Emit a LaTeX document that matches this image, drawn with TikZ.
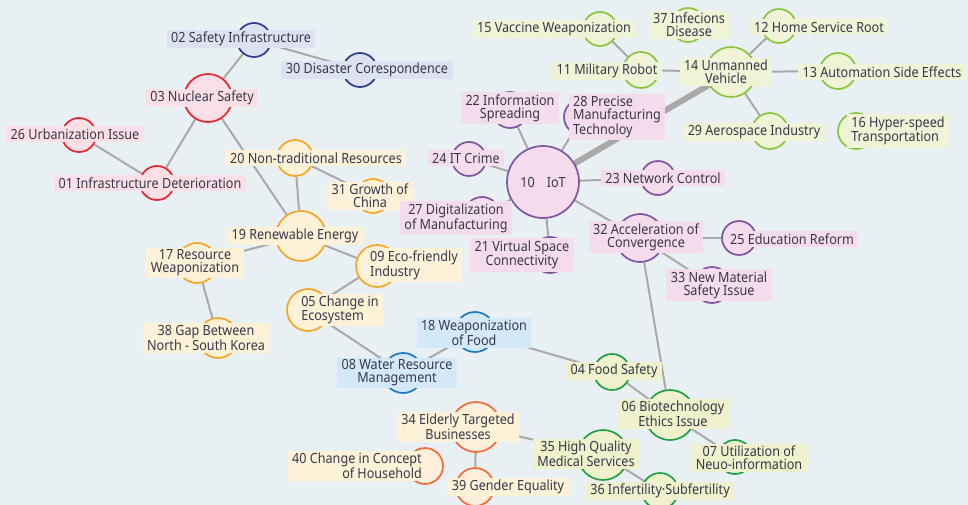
\documentclass[tikz,border=0pt]{standalone}
\usepackage{fontspec}
\setmainfont[FakeStretch=0.9]{Noto Sans}

\pgfdeclarelayer{paper}
\pgfdeclarelayer{links}
\pgfsetlayers{paper,links,main}

% palette
\definecolor{paperbg}{HTML}{E9F0F3}
\definecolor{linkgray}{HTML}{A9A9A9}
\definecolor{ink}{HTML}{38384A}
\definecolor{lineR}{HTML}{E8242C}\definecolor{fillR}{HTML}{FADFE7}
\definecolor{lineN}{HTML}{2E3B8F}\definecolor{fillN}{HTML}{DCE2F2}
\definecolor{lineO}{HTML}{F6A623}\definecolor{fillO}{HTML}{FDF1D8}
\definecolor{lineB}{HTML}{1F78C4}\definecolor{fillB}{HTML}{D3E9F7}
\definecolor{lineP}{HTML}{7D55A3}\definecolor{fillP}{HTML}{F4DCEC}
\definecolor{lineL}{HTML}{8BC540}\definecolor{fillL}{HTML}{EFF4D6}
\definecolor{lineG}{HTML}{22A045}\definecolor{fillG}{HTML}{EEF1CB}
\definecolor{lineS}{HTML}{F26B3B}\definecolor{fillS}{HTML}{FEEEDA}

\newcommand\labelfont{\fontsize{14}{12.8}\selectfont}

\tikzset{
  ring/.style={circle, line width=1.7pt, inner sep=0pt, minimum size=2*#1},
  tag/.style={inner xsep=4.5pt, inner ysep=2.3pt, text=ink, font=\labelfont},
  link/.style={draw=linkgray, line width=2pt},
  trunk/.style={draw=linkgray, line width=6pt},
  % groups: ring colours and label fills
  rR/.style={ring=#1, draw=lineR, fill=fillR}, tR/.style={tag, fill=fillR},
  rN/.style={ring=#1, draw=lineN, fill=fillN}, tN/.style={tag, fill=fillN},
  rO/.style={ring=#1, draw=lineO, fill=fillO}, tO/.style={tag, fill=fillO},
  rB/.style={ring=#1, draw=lineB, fill=fillB}, tB/.style={tag, fill=fillB},
  rP/.style={ring=#1, draw=lineP, fill=fillP}, tP/.style={tag, fill=fillP},
  rL/.style={ring=#1, draw=lineL, fill=fillL}, tL/.style={tag, fill=fillL},
  rG/.style={ring=#1, draw=lineG, fill=fillG}, tG/.style={tag, fill=fillG},
  rS/.style={ring=#1, draw=lineS, fill=fillS}, tS/.style={tag, fill=fillO},
}

\begin{document}
\begin{tikzpicture}[x=1pt, y=-1pt]
\begin{pgfonlayer}{paper}
  \fill[paperbg] (0,0) rectangle (968,505);
\end{pgfonlayer}
\useasboundingbox (0,0) rectangle (968,505);

% ---- rings ----
\node[rN=17pt] (c02) at (254,40) {};
\node[rN=17pt] (c30) at (360,70) {};
\node[rR=24pt] (c03) at (208,98) {};
\node[rR=17pt] (c26) at (79,135) {};
\node[rR=17pt] (c01) at (157,183) {};

\node[rO=18pt] (c20) at (295,158) {};
\node[rO=17pt] (c31) at (373,196) {};
\node[rO=25pt] (c19) at (301,236) {};
\node[rO=20pt] (c17) at (197,263) {};
\node[rO=21pt] (c09) at (377,266) {};
\node[rO=21pt] (c05) at (308,310) {};
\node[rO=20pt] (c38) at (218,338) {};

\node[rB=20pt] (c18) at (475,332) {};
\node[rB=20pt] (c08) at (403,373) {};

\node[rL=17pt] (c15) at (600,29) {};
\node[rL=17pt] (c37) at (688,25) {};
\node[rL=17pt] (c12) at (779,26) {};
\node[rL=18pt] (c11) at (641,70) {};
\node[rL=25pt] (c14) at (731,72) {};
\node[rL=18pt] (c13) at (838,71) {};
\node[rL=18pt] (c29) at (770,131) {};
\node[rL=18pt] (c16) at (856,131) {};

\node[rP=36pt, font=\labelfont, text=ink] (c10) at (543,182) {10\hspace{12pt}IoT};
\node[rP=18pt] (c22) at (510,110) {};
\node[rP=18pt] (c28) at (582,117) {};
\node[rP=17pt] (c24) at (469,159) {};
\node[rP=17pt] (c23) at (658,178) {};
\node[rP=18pt] (c27) at (482,215) {};
\node[rP=18pt] (c21) at (550,255) {};
\node[rP=24pt] (c32) at (640,238) {};
\node[rP=17pt] (c25) at (739,238) {};
\node[rP=18pt] (c33) at (712,285) {};

\node[rG=18pt] (c04) at (612,372) {};
\node[rG=25pt] (c06) at (670,415) {};
\node[rG=17pt] (c07) at (735,457) {};
\node[rG=25pt] (c35) at (603,455) {};
\node[rG=18pt] (c36) at (660,491) {};

\node[rS=25pt] (c34) at (476,427) {};
\node[rS=18pt] (c40) at (425,466) {};
\node[rS=19pt] (c39) at (475,487) {};

% ---- labels ----
\node[tN] (t02) at (241,39) {02 Safety Infrastructure};
\node[tN] (t30) at (367,70) {30 Disaster Corespondence};
\node[tR] (t03) at (202,98) {03 Nuclear Safety};
\node[tR] (t26) at (75,134) {26 Urbanization Issue};
\node[tR] (t01) at (150,183) {01 Infrastructure Deterioration};

\node[tO] (t20) at (316,158) {20 Non-traditional Resources};
\node[tO, align=center] (t31) at (370,196) {31 Growth of\\China};
\node[tO] (t19) at (295,236) {19 Renewable Energy};
\node[tO, align=center] (t17) at (195,263) {17 Resource\\Weaponization};
\node[tO, align=left] (t09) at (414,265) {09 Eco-friendly\\Industry};
\node[tO, align=left] (t05) at (340,310) {05 Change in\\Ecosystem};
\node[tO, align=center] (t38) at (206,338) {38 Gap Between\\North - South Korea};

\node[tB, align=center] (t18) at (474,333) {18 Weaponization\\of Food};
\node[tB, align=center] (t08) at (397,373) {08 Water Resource\\Management};

\node[tL] (t15) at (554,29) {15 Vaccine Weaponization};
\node[tL, align=center] (t37) at (689,25) {37 Infecions\\Disease};
\node[tL] (t12) at (819,27) {12 Home Service Root};
\node[tL] (t11) at (607,71) {11 Military Robot};
\node[tL, align=center] (t14) at (726,72) {14 Unmanned\\Vehicle};
\node[tL] (t13) at (882,72) {13 Automation Side Effects};
\node[tL] (t29) at (754,132) {29 Aerospace Industry};
\node[tL, align=left] (t16) at (898,131) {16 Hyper-speed\\Transportation};

\node[tP, align=center] (t22) at (510,108) {22 Information\\Spreading};
\node[tP, align=left] (t28) at (617,117) {28 Precise\\Manufacturing\\Technoloy};
\node[tP] (t24) at (466,158) {24 IT Crime};
\node[tP] (t23) at (663,178) {23 Network Control};
\node[tP, align=center] (t27) at (456,218) {27 Digitalization\\of Manufacturing};
\node[tP, align=center] (t21) at (522,255) {21 Virtual Space\\Connectivity};
\node[tP, align=center] (t32) at (646,237) {32 Acceleration of\\Convergence};
\node[tP] (t25) at (792,239) {25 Education Reform};
\node[tP, align=center] (t33) at (719,285) {33 New Material\\Safety Issue};

\node[tG] (t04) at (614,371) {04 Food Safety};
\node[tG, align=center] (t06) at (673,414) {06 Biotechnology\\Ethics Issue};
\node[tG, align=center] (t07) at (749,458) {07 Utilization of\\Neuo-information};
\node[tG, align=center] (t35) at (586,454) {35 High Quality\\Medical Services};
\node[tG] (t36) at (660,491) {36 Infertility·Subfertility};

\node[tS, align=center] (t34) at (458,427) {34 Elderly Targeted\\Businesses};
\node[tS, align=right] (t40) at (357,466) {40 Change in Concept\\of Household};
\node[tS] (t39) at (508,487) {39 Gender Equality};

% ---- connectors ----
\begin{pgfonlayer}{links}
  \draw[trunk] (c10) -- (c14);
  \foreach \a/\b in {02/03, 02/30, 03/01, 03/19, 26/01,
                     20/19, 20/31, 19/17, 19/09, 17/38, 09/05,
                     05/08, 08/18, 18/04, 04/06, 32/06, 06/07,
                     34/39, 34/35, 35/36,
                     10/22, 10/28, 10/24, 10/23, 10/27, 10/21, 10/32,
                     32/25, 32/33,
                     15/11, 11/14, 14/12, 14/13, 14/29}
    \draw[link] (c\a) -- (c\b);
\end{pgfonlayer}
\end{tikzpicture}
\end{document}
